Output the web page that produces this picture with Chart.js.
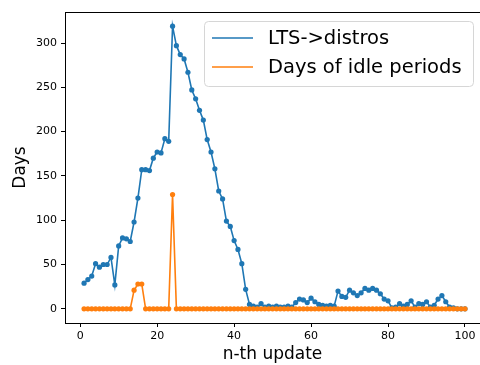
<!DOCTYPE html>
<html>
<head>
<meta charset="utf-8">
<script src="https://cdn.jsdelivr.net/npm/chart.js@4/dist/chart.umd.min.js"></script>
<style>
  body { margin: 0; background: #fff; }
  #wrap { width: 480px; height: 365px; }
</style>
</head>
<body>
<div id="wrap"><canvas id="mychart"></canvas></div>
<script>
const updates = [
  1, 2, 3, 4, 5, 6, 7, 8, 9, 10, 11, 12, 13, 14, 15, 16, 17, 18, 19, 20,
  21, 22, 23, 24, 25, 26, 27, 28, 29, 30, 31, 32, 33, 34, 35, 36, 37, 38, 39, 40,
  41, 42, 43, 44, 45, 46, 47, 48, 49, 50, 51, 52, 53, 54, 55, 56, 57, 58, 59, 60,
  61, 62, 63, 64, 65, 66, 67, 68, 69, 70, 71, 72, 73, 74, 75, 76, 77, 78, 79, 80,
  81, 82, 83, 84, 85, 86, 87, 88, 89, 90, 91, 92, 93, 94, 95, 96, 97, 98, 99, 100
];
const ltsToDistros = [
  29, 33, 37, 51, 47, 50, 50, 58, 27, 71, 80, 79, 76, 98, 125, 157, 157, 156, 170, 177,
  176, 192, 189, 319, 297, 287, 282, 267, 247, 237, 224, 213, 191, 177, 158, 133, 124, 99, 93, 77,
  67, 51, 22, 5, 3, 2, 6, 2, 3, 2, 3, 2, 2, 3, 2, 7, 11, 10, 7, 12,
  8, 5, 4, 3, 4, 3, 20, 14, 13, 21, 18, 15, 18, 23, 21, 23, 21, 17, 11, 9,
  1, 2, 6, 3, 5, 9, 2, 6, 5, 8, 2, 4, 11, 15, 8, 2, 1, 0, 0, 0
];
const idleDays = [
  0, 0, 0, 0, 0, 0, 0, 0, 0, 0, 0, 0, 0, 21, 28, 28, 0, 0, 0, 0,
  0, 0, 0, 129, 0, 0, 0, 0, 0, 0, 0, 0, 0, 0, 0, 0, 0, 0, 0, 0,
  0, 0, 0, 0, 0, 0, 0, 0, 0, 0, 0, 0, 0, 0, 0, 0, 0, 0, 0, 0,
  0, 0, 0, 0, 0, 0, 0, 0, 0, 0, 0, 0, 0, 0, 0, 0, 0, 0, 0, 0,
  0, 0, 0, 0, 0, 0, 0, 0, 0, 0, 0, 0, 0, 0, 0, 0, 0, 0, 0, 0
];
const seriesNames = ['LTS->distros', 'Days of idle periods'];
const xTicks = [0, 20, 40, 60, 80, 100];
const yTicks = [0, 50, 100, 150, 200, 250, 300];

const colors = ['#1f77b4', '#ff7f0e'];

Chart.defaults.font.family = 'DejaVu Sans';
Chart.defaults.color = '#000';

const toPoints = vals => vals.map((v, i) => ({ x: updates[i], y: v }));

// matplotlib style top line + legend inside the plot
const framePlugin = {
  id: 'frame',
  afterDraw(chart) {
    const { ctx, chartArea } = chart;
    ctx.save();
    ctx.strokeStyle = '#000';
    ctx.lineWidth = 1;
    ctx.beginPath();
    ctx.moveTo(chartArea.left, chartArea.top + 0.5);
    ctx.lineTo(chartArea.right, chartArea.top + 0.5);
    ctx.stroke();

    // legend box
    const bx = 204, by = 21, bw = 269, bh = 65, r = 4;
    ctx.fillStyle = 'rgba(255,255,255,0.8)';
    ctx.strokeStyle = '#d6d6d6';
    ctx.beginPath();
    ctx.roundRect(bx + 0.5, by + 0.5, bw, bh, r);
    ctx.fill();
    ctx.stroke();

    ctx.font = '19.5px "DejaVu Sans"';
    ctx.textBaseline = 'middle';
    ctx.textAlign = 'left';
    const rows = [38, 67];
    seriesNames.forEach((name, i) => {
      ctx.strokeStyle = colors[i];
      ctx.lineWidth = 1.6;
      ctx.beginPath();
      ctx.moveTo(212, rows[i]);
      ctx.lineTo(253, rows[i]);
      ctx.stroke();
      ctx.fillStyle = '#000';
      ctx.fillText(name, 268, rows[i] + 1);
    });
    ctx.restore();
  }
};

const ctx = document.getElementById('mychart').getContext('2d');
let mychart = new Chart(ctx, {
  type: 'line',
  data: {
    datasets: [
      {
        label: seriesNames[0],
        data: toPoints(ltsToDistros),
        borderColor: colors[0],
        backgroundColor: colors[0],
        borderWidth: 1.6,
        pointRadius: 2.6,
        pointBorderWidth: 0,
        order: 1
      },
      {
        label: seriesNames[1],
        data: toPoints(idleDays),
        borderColor: colors[1],
        backgroundColor: colors[1],
        borderWidth: 1.6,
        pointRadius: 2.6,
        pointBorderWidth: 0,
        order: 0
      }
    ]
  },
  options: {
    responsive: true,
    maintainAspectRatio: false,
    animation: false,
    layout: { autoPadding: false, padding: { top: 12, right: 0, left: 0, bottom: 0 } },
    plugins: {
      legend: { display: false },
      tooltip: { enabled: false }
    },
    scales: {
      x: {
        type: 'linear',
        min: -3.95,
        max: 103.9,
        afterBuildTicks: s => { s.ticks = xTicks.map(v => ({ value: v })); },
        afterFit: s => { s.height = 42; s.paddingLeft = 0; s.paddingRight = 0; },
        grid: { display: true, drawOnChartArea: false, drawTicks: true, tickLength: 4, tickColor: '#000' },
        border: { display: true, color: '#000', width: 1 },
        ticks: { font: { size: 11 }, padding: 3, maxRotation: 0 },
        title: { display: true, text: 'n-th update', font: { size: 17 }, padding: { top: 0, bottom: 0 } }
      },
      y: {
        min: -16,
        max: 335,
        afterBuildTicks: s => { s.ticks = yTicks.map(v => ({ value: v })); },
        afterFit: s => { s.width = 65; s.paddingTop = 0; s.paddingBottom = 0; },
        grid: { display: true, drawOnChartArea: false, drawTicks: true, tickLength: 4, tickColor: '#000' },
        border: { display: true, color: '#000', width: 1 },
        ticks: { font: { size: 11 }, padding: 4 },
        title: { display: true, text: 'Days', font: { size: 17 }, padding: { top: 10, bottom: 0 } }
      }
    }
  },
  plugins: [framePlugin]
});
</script>
</body>
</html>
